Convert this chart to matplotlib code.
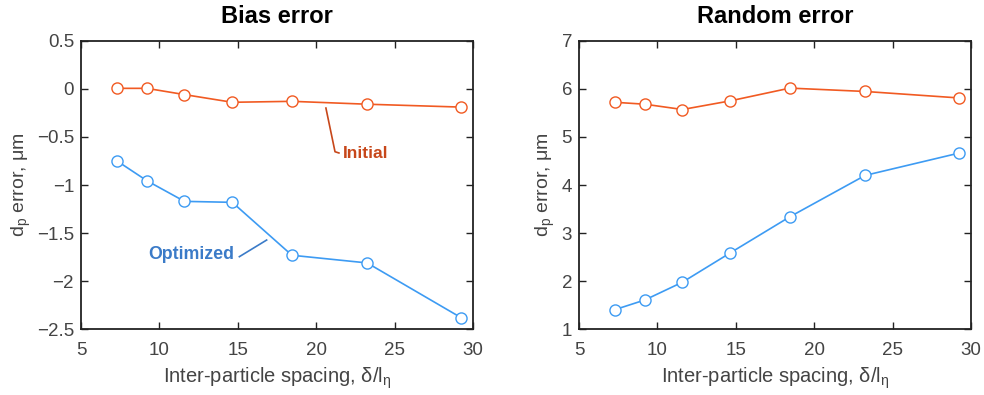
import matplotlib.pyplot as plt
from matplotlib.ticker import FuncFormatter

plt.rcParams['font.family'] = ['Liberation Sans', 'DejaVu Sans']
plt.rcParams['mathtext.fontset'] = 'custom'
plt.rcParams['mathtext.rm'] = 'Liberation Sans'

# spacing delta / l_eta
spacing = [7.3, 9.2, 11.6, 14.65, 18.45, 23.25, 29.25]

bias_initial = [0.005, 0.005, -0.06, -0.14, -0.13, -0.16, -0.19]
bias_optimized = [-0.75, -0.955, -1.17, -1.18, -1.73, -1.81, -2.38]

rand_initial = [5.72, 5.68, 5.57, 5.75, 6.015, 5.945, 5.81]
rand_optimized = [1.41, 1.61, 1.98, 2.59, 3.34, 4.20, 4.665]

orange = '#f15a22'
blue = '#3d9bf3'
orange_lbl = '#c7471a'
blue_lbl = '#3b7bc8'
txt = '#444444'


def fmt(v, pos):
    s = '%g' % v
    return s.replace('-', '\u2212')


fig = plt.figure(figsize=(9.84, 3.95), dpi=100)
ax1 = fig.add_axes([0.0823, 0.1663, 0.3984, 0.7306])
ax2 = fig.add_axes([0.5884, 0.1663, 0.3984, 0.7306])

for ax, ini, opt in [(ax1, bias_initial, bias_optimized), (ax2, rand_initial, rand_optimized)]:
    ax.plot(spacing, ini, '-o', color=orange, lw=1.2, ms=8, mfc='white', mec=orange, mew=1.0)
    ax.plot(spacing, opt, '-o', color=blue, lw=1.2, ms=8, mfc='white', mec=blue, mew=1.0)
    ax.set_xlim(5, 30)
    ax.set_xticks([5, 10, 15, 20, 25, 30])
    ax.tick_params(direction='in', top=True, right=True, length=5, width=1,
                   labelsize=13.5, colors='#222222', labelcolor=txt)
    ax.tick_params(axis='x', pad=9)
    ax.tick_params(axis='y', pad=5)
    ax.yaxis.set_major_formatter(FuncFormatter(fmt))
    for sp in ax.spines.values():
        sp.set_linewidth(1.3)
        sp.set_color('#222222')
    ax.set_xlabel('Inter-particle spacing, \u03b4/l$_\\mathregular{\u03b7}$', fontsize=14.5, color=txt, labelpad=5)
    ax.set_ylabel('d$_\\mathregular{p}$ error, \u03bcm', fontsize=14, color=txt, labelpad=3)

ax1.set_ylim(-2.5, 0.5)
ax1.set_yticks([0.5, 0, -0.5, -1, -1.5, -2, -2.5])
ax1.set_title('Bias error', fontsize=17, fontweight='bold', pad=13)

ax2.set_ylim(1, 7)
ax2.set_yticks([1, 2, 3, 4, 5, 6, 7])
ax2.set_title('Random error', fontsize=17, fontweight='bold', pad=13)

# annotations on the bias panel
ax1.plot([20.62, 21.2, 21.45], [-0.2, -0.654, -0.667], color=orange_lbl, lw=1.2)
ax1.text(21.7, -0.67, 'Initial', color=orange_lbl, fontsize=12.5, fontweight='bold',
         ha='left', va='center')
ax1.plot([15.1, 16.84], [-1.745, -1.572], color=blue_lbl, lw=1.2)
ax1.text(14.76, -1.72, 'Optimized', color=blue_lbl, fontsize=12.8, fontweight='bold',
         ha='right', va='center')

fig.savefig('out.png', dpi=100)
